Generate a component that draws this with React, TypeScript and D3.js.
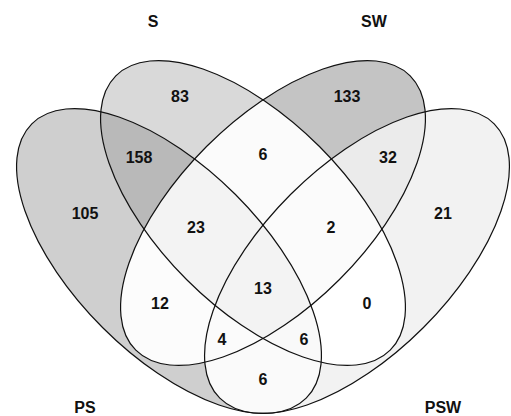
import React from "react";
import * as d3 from "d3";

// four-set venn: PS, S, SW, PSW
const setNames = ["S", "SW", "PS", "PSW"];
const regionKeys = [
  "PS", "S", "SW", "PSW",
  "PS&S", "S&SW", "SW&PSW", "PS&SW", "S&PSW", "PS&PSW",
  "PS&S&SW", "S&SW&PSW", "PS&SW&PSW", "PS&S&PSW",
  "PS&S&SW&PSW",
];
const regionCounts = [105, 83, 133, 21, 158, 6, 32, 12, 0, 6, 23, 2, 4, 6, 13];

const W = 511;
const H = 416;

// layout (reference pixel units)
const shape = { rx: 194, ry: 94 };
const ellipses: Record<string, { cx: number; cy: number; rot: number }> = {
  PS: { cx: 169, cy: 261, rot: 45 },
  S: { cx: 253, cy: 213, rot: 45 },
  SW: { cx: 273, cy: 213, rot: -45 },
  PSW: { cx: 357, cy: 261, rot: -45 },
};
const setLabelAt: Record<string, [number, number]> = {
  S: [153, 21],
  SW: [374, 21],
  PS: [85, 407],
  PSW: [443, 407],
};
const regionLabelAt: Record<string, [number, number]> = {
  PS: [85, 213],
  S: [180, 96],
  SW: [347, 96],
  PSW: [443, 213],
  "PS&S": [139, 157],
  "S&SW": [263, 154],
  "SW&PSW": [388, 157],
  "PS&SW": [160, 303],
  "S&PSW": [367, 303],
  "PS&PSW": [263, 379],
  "PS&S&SW": [196, 227],
  "S&SW&PSW": [331, 227],
  "PS&SW&PSW": [222, 339],
  "PS&S&PSW": [304, 339],
  "PS&S&SW&PSW": [263, 288],
};
const regionFill: Record<string, string> = {
  PS: "#cfcfcf",
  S: "#d9d9d9",
  SW: "#c4c4c4",
  PSW: "#f2f2f2",
  "PS&S": "#b9b9b9",
  "S&SW": "#fbfbfb",
  "SW&PSW": "#ebebeb",
  "PS&SW": "#fcfcfc",
  "S&PSW": "#ffffff",
  "PS&PSW": "#fafafa",
  "PS&S&SW": "#f3f3f3",
  "S&SW&PSW": "#fbfbfb",
  "PS&SW&PSW": "#fbfbfb",
  "PS&S&PSW": "#f9f9f9",
  "PS&S&SW&PSW": "#f3f3f3",
};

const x = d3.scaleLinear().domain([0, 511]).range([0, W]);
const y = d3.scaleLinear().domain([0, 416]).range([0, H]);
const font = "'Liberation Sans', Arial, Helvetica, sans-serif";

function Ell({ name, ...rest }: { name: string; [k: string]: any }) {
  const e = ellipses[name];
  const cx = x(e.cx), cy = y(e.cy);
  return (
    <ellipse
      cx={cx}
      cy={cy}
      rx={x(shape.rx) - x(0)}
      ry={y(shape.ry) - y(0)}
      transform={`rotate(${e.rot} ${cx} ${cy})`}
      {...rest}
    />
  );
}

export default function App() {
  const sets = ["PS", "S", "SW", "PSW"];
  return (
    <div style={{ position: "absolute", left: 0, top: 0 }}>
      <svg width={W} height={H} style={{ display: "block", background: "#fff" }}>
        <defs>
          {sets.map((s) => (
            <clipPath id={`clip-${s}`} key={s}>
              <Ell name={s} />
            </clipPath>
          ))}
          {regionKeys.map((k, i) => {
            const inside = k.split("&");
            const outside = sets.filter((s) => !inside.includes(s));
            return (
              <mask id={`mask-${i}`} key={k} maskUnits="userSpaceOnUse" x={0} y={0} width={W} height={H}>
                <rect x={0} y={0} width={W} height={H} fill="#fff" />
                {outside.map((s) => (
                  <Ell name={s} key={s} fill="#000" />
                ))}
              </mask>
            );
          })}
        </defs>

        {regionKeys.map((k, i) => {
          const inside = k.split("&");
          let node: React.ReactNode = (
            <rect x={0} y={0} width={W} height={H} fill={regionFill[k]} mask={`url(#mask-${i})`} />
          );
          inside.forEach((s) => {
            node = <g clipPath={`url(#clip-${s})`}>{node}</g>;
          });
          return <g key={k}>{node}</g>;
        })}

        {sets.map((s) => (
          <Ell name={s} key={s} fill="none" stroke="#111" strokeWidth={1.2} />
        ))}

        <g fontFamily={font} fontWeight="bold" fontSize={16} fill="#111" textAnchor="middle">
          {regionKeys.map((k, i) => {
            const [px, py] = regionLabelAt[k];
            return (
              <text key={k} x={x(px)} y={y(py)} dy="0.36em">
                {regionCounts[i]}
              </text>
            );
          })}
          {setNames.map((s) => {
            const [px, py] = setLabelAt[s];
            return (
              <text key={s} x={x(px)} y={y(py)} dy="0.36em">
                {s}
              </text>
            );
          })}
        </g>
      </svg>
    </div>
  );
}
